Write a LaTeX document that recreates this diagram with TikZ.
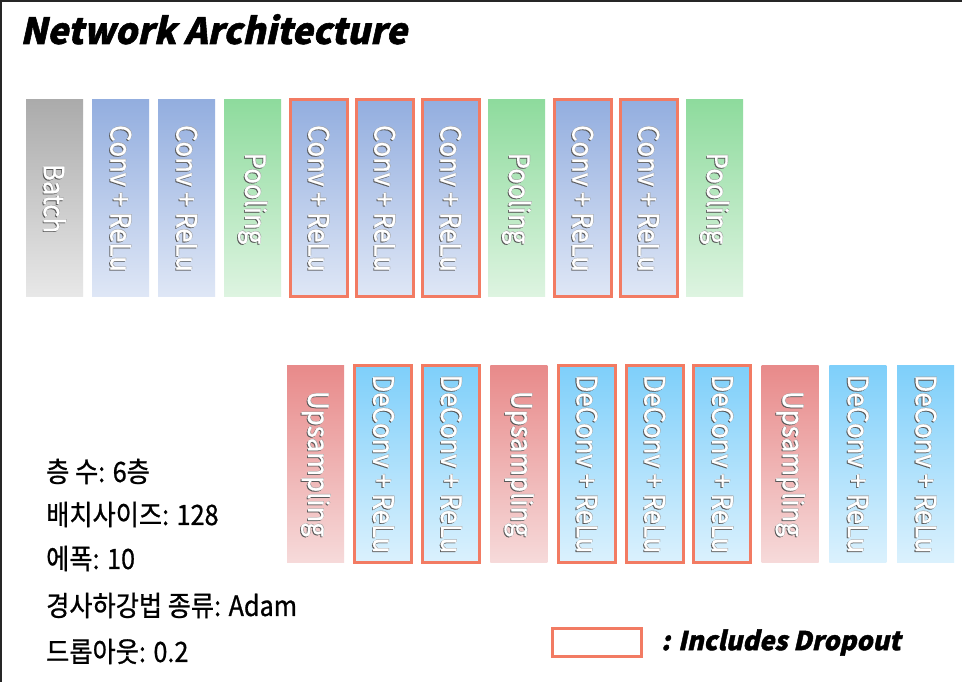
\documentclass[tikz,border=0pt]{standalone}
\usepackage{fontspec}
\setmainfont{Noto Sans CJK KR}
\newfontfamily\barfont[FakeStretch=0.92,FakeBold=0.6]{Noto Sans CJK KR}
\newfontfamily\infofont[FakeStretch=0.9,FakeBold=0.8]{Noto Sans CJK KR}
\newfontfamily\titlefont[FakeSlant=0.22,FakeStretch=0.98,FakeBold=1.5]{Noto Sans CJK KR Black}

\usetikzlibrary{positioning}

\definecolor{batchtop}{HTML}{ABABAB}
\definecolor{batchbot}{HTML}{E8E8E8}
\definecolor{convtop}{HTML}{93AEDF}
\definecolor{convbot}{HTML}{DFE7F6}
\definecolor{pooltop}{HTML}{8EDB9D}
\definecolor{poolbot}{HTML}{DEF4E1}
\definecolor{uptop}{HTML}{E88A8A}
\definecolor{upbot}{HTML}{F6DADA}
\definecolor{deconvtop}{HTML}{7ECFFA}
\definecolor{deconvbot}{HTML}{DBF1FD}
\definecolor{dropred}{HTML}{F27B63}

% white label with a grey rim
\newcommand{\bartext}[1]{%
  \rlap{\kern0.9pt\raisebox{-0.9pt}{\textcolor{black!65}{#1}}}%
  \rlap{\kern-0.5pt\raisebox{0.5pt}{\textcolor{black!35}{#1}}}%
  \textcolor{white}{#1}}

\tikzset{
  layer/.style={rotate=-90, minimum width=197pt, minimum height=57pt,
    inner sep=0pt, font=\barfont\fontsize{28}{28}\selectfont},
  batchbar/.style={layer, top color=batchtop, bottom color=batchbot},
  convbar/.style={layer, top color=convtop, bottom color=convbot},
  poolbar/.style={layer, top color=pooltop, bottom color=poolbot},
  upbar/.style={layer, top color=uptop, bottom color=upbot},
  deconvbar/.style={layer, top color=deconvtop, bottom color=deconvbot},
  dropout/.style={draw=dropred, line width=3pt},
  infotext/.style={anchor=base west, inner sep=0pt,
    font=\infofont\fontsize{28}{28}\selectfont},
}

\begin{document}
\begin{tikzpicture}[x=1pt,y=1pt]
\useasboundingbox (0,0) rectangle (962,682);
\fill[white] (0,0) rectangle (962,682);
\draw[black!85, line width=1.5pt] (1,0) -- (1,681.2) -- (962,681.2);

% --- Title ---
\node[anchor=base west, inner sep=0pt, font=\titlefont\fontsize{36}{36}\selectfont]
  (title) at (20,638) {Network Architecture};

% --- Encoder row ---
\node[batchbar] (batch) at (54.5,483.5) {\bartext{Batch}};
\node[convbar] (conv1) at (120.5,483.5) {\bartext{Conv + ReLu}};
\node[convbar] (conv2) at (186.5,483.5) {\bartext{Conv + ReLu}};
\node[poolbar] (pool1) at (252.5,483.5) {\bartext{Pooling}};
\node[convbar,dropout] (conv3) at (318.5,483.5) {\bartext{Conv + ReLu}};
\node[convbar,dropout] (conv4) at (384.5,483.5) {\bartext{Conv + ReLu}};
\node[convbar,dropout] (conv5) at (450.5,483.5) {\bartext{Conv + ReLu}};
\node[poolbar] (pool2) at (516.5,483.5) {\bartext{Pooling}};
\node[convbar,dropout] (conv6) at (582.5,483.5) {\bartext{Conv + ReLu}};
\node[convbar,dropout] (conv7) at (648.5,483.5) {\bartext{Conv + ReLu}};
\node[poolbar] (pool3) at (714.5,483.5) {\bartext{Pooling}};

% --- Decoder row ---
\node[upbar] (up1) at (315.5,218) {\bartext{Upsampling}};
\node[deconvbar,dropout] (deconv1) at (383.3,218) {\bartext{DeConv + ReLu}};
\node[deconvbar,dropout] (deconv2) at (451.1,218) {\bartext{DeConv + ReLu}};
\node[upbar] (up2) at (518.9,218) {\bartext{Upsampling}};
\node[deconvbar,dropout] (deconv3) at (586.7,218) {\bartext{DeConv + ReLu}};
\node[deconvbar,dropout] (deconv4) at (654.5,218) {\bartext{DeConv + ReLu}};
\node[deconvbar,dropout] (deconv5) at (722.3,218) {\bartext{DeConv + ReLu}};
\node[upbar] (up3) at (790.1,218) {\bartext{Upsampling}};
\node[deconvbar] (deconv6) at (857.9,218) {\bartext{DeConv + ReLu}};
\node[deconvbar] (deconv7) at (925.7,218) {\bartext{DeConv + ReLu}};

% --- Hyperparameters ---
\node[infotext] (layers) at (46,200) {층 수: 6층};
\node[infotext] (batchsize) at (46,157) {배치사이즈: 128};
\node[infotext] (epochs) at (46,113) {에폭: 10};
\node[infotext] (optimizer) at (46,66) {경사하강법 종류: Adam};
\node[infotext] (droprate) at (46,20) {드롭아웃: 0.2};

% --- Legend ---
\node[dropout, fill=white, minimum width=89pt, minimum height=28pt, inner sep=0pt]
  (legendbox) at (597,39.5) {};
\node[right=18pt of legendbox, inner sep=0pt, font=\titlefont\fontsize{26}{26}\selectfont]
  (legendlabel) {: Includes Dropout};

\end{tikzpicture}
\end{document}
